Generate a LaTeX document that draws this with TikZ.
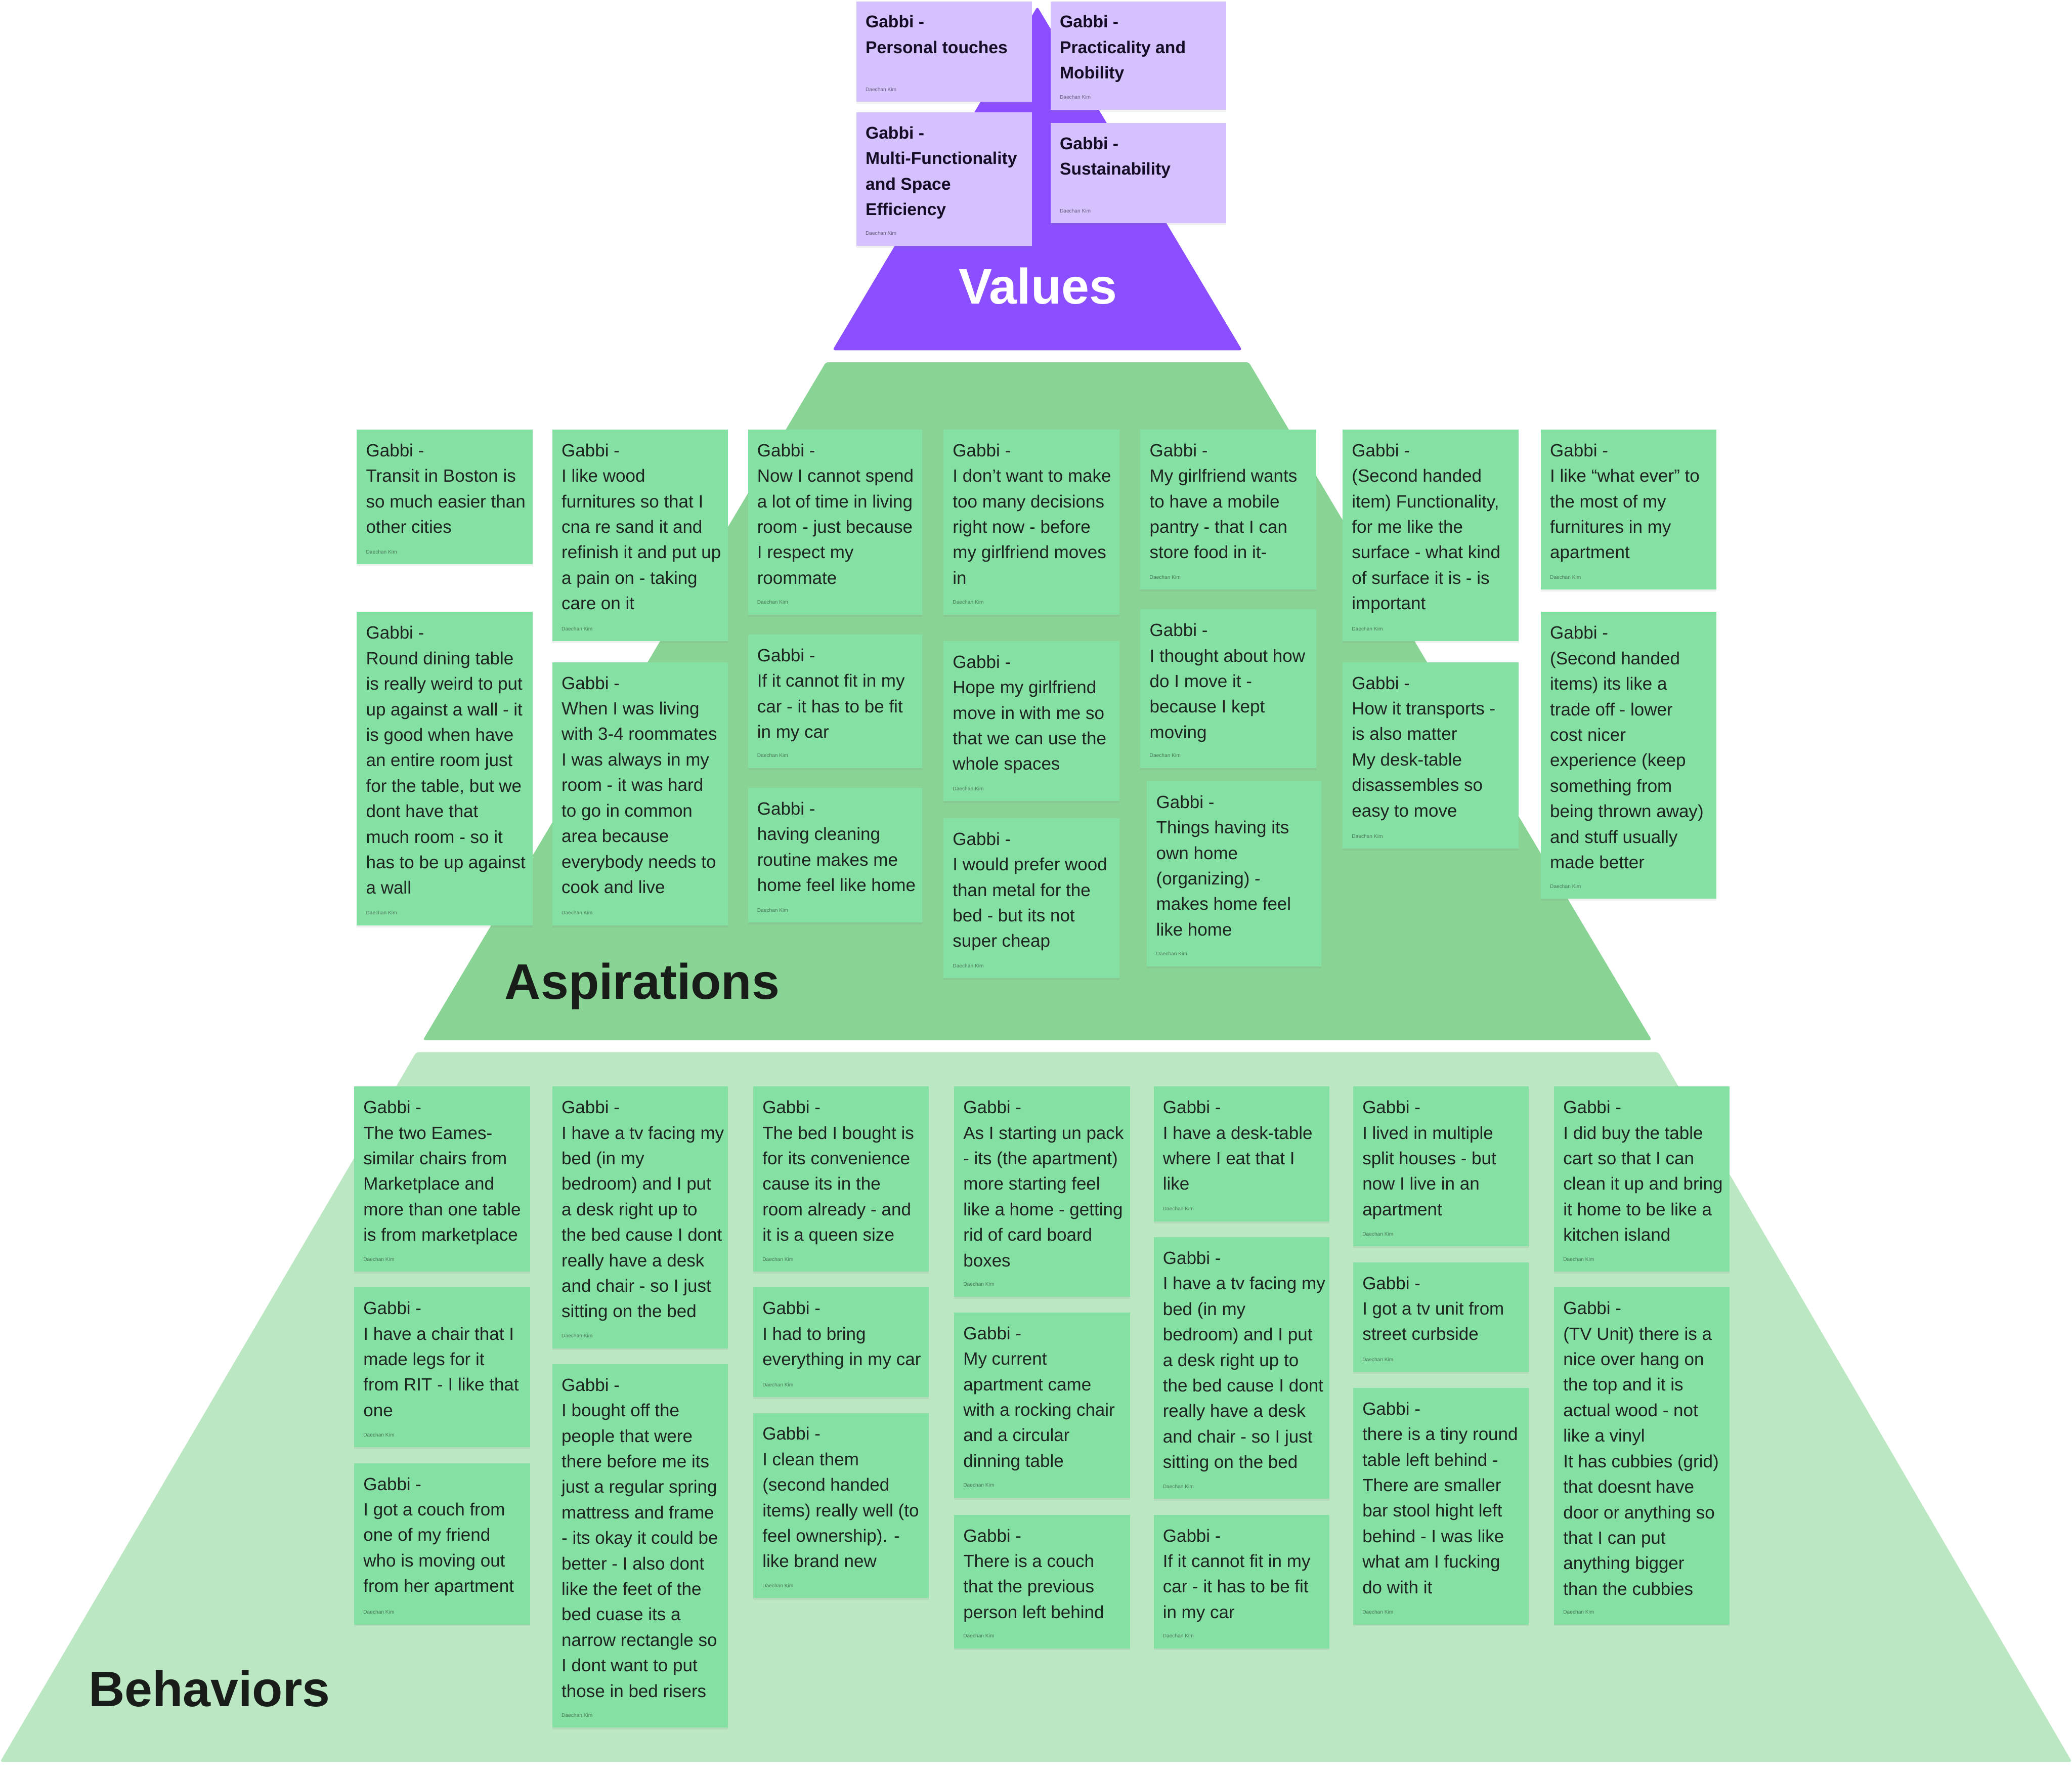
\documentclass[tikz,border=0pt]{standalone}
\usepackage{fontspec}
\setmainfont{Liberation Sans}
\usetikzlibrary{shadows}
\definecolor{valband}{RGB}{139,79,255}
\definecolor{valnote}{RGB}{212,193,253}
\definecolor{aspband}{RGB}{137,212,148}
\definecolor{behband}{RGB}{187,232,194}
\definecolor{gnotefill}{RGB}{133,224,163}
\definecolor{inkdark}{RGB}{30,36,32}
\tikzset{x=1pt,y=-1pt,
  every node/.style={inner sep=0pt,outer sep=0pt},
  gnote/.style={anchor=north west,fill=gnotefill,drop shadow={shadow xshift=0pt,shadow yshift=-1.5pt,opacity=.12}},
  gnote text/.style={align=left,text=inkdark,font=\fontsize{13.4}{19.3}\selectfont},
  gnote author/.style={text=inkdark!55!gnotefill,font=\fontsize{3.9}{4.5}\selectfont},
  vnote/.style={anchor=north west,fill=valnote,drop shadow={shadow xshift=0pt,shadow yshift=-1.5pt,opacity=.12}},
  vnote text/.style={align=left,text=black!85!valband,font=\fontsize{12.9}{19.3}\selectfont\bfseries},
  vnote author/.style={text=black!50!valnote,font=\fontsize{3.9}{4.5}\selectfont},
  band/.style={rounded corners=2pt},
  title/.style={font=\fontsize{37.8}{40}\selectfont\bfseries}}
% card: name, x, y, width, height, kind, text
\newcommand{\card}[7]{%
  \node[#6,minimum width=#4pt,minimum height=#5pt] (#1) at (#2,#3) {};
  \node[#6 text,anchor=north west] (#1t) at ([shift={(7pt,-10.7pt)}]#1.north west) {#7};
  \node[#6 author,anchor=base west] (#1a) at ([shift={(7pt,8pt)}]#1.south west) {Daechan Kim};}
\begin{document}
\begin{tikzpicture}
\useasboundingbox (0,0) rectangle (1568,1342);
% pyramid bands
\fill[band,behband] (315,796)--(1255,796)--(1568,1333)--(0,1333)--cycle;
\fill[band,aspband] (625,274)--(945,274)--(1250,787)--(320,787)--cycle;
\fill[band,valband] (785,5)--(940,265)--(630,265)--cycle;
\node[title,text=white,anchor=base] (values) at (785.5,230) {Values};
\node[title,text=inkdark!80!black,anchor=base west] (aspirations) at (382,756) {Aspirations};
\node[title,text=inkdark!80!black,anchor=base west] (behaviors) at (67,1291) {Behaviors};
% values
\card{val1}{648}{1}{133}{76}{vnote}{Gabbi -\\Personal touches}
\card{val2}{795}{1}{133}{82}{vnote}{Gabbi -\\Practicality and\\Mobility}
\card{val3}{648}{85}{133}{101}{vnote}{Gabbi -\\Multi-Functionality\\and Space\\Efficiency}
\card{val4}{795}{93}{133}{76}{vnote}{Gabbi -\\Sustainability}
% aspirations
\card{asp1}{270}{325}{133}{102}{gnote}{Gabbi -\\Transit in Boston is\\so much easier than\\other cities}
\card{asp2}{270}{463}{133}{237}{gnote}{Gabbi -\\Round dining table\\is really weird to put\\up against a wall - it\\is good when have\\an entire room just\\for the table, but we\\dont have that\\much room - so it\\has to be up against\\a wall}
\card{asp3}{418}{325}{133}{160}{gnote}{Gabbi -\\I like wood\\furnitures so that I\\cna re sand it and\\refinish it and put up\\a pain on - taking\\care on it}
\card{asp4}{418}{501}{133}{199}{gnote}{Gabbi -\\When I was living\\with 3-4 roommates\\I was always in my\\room - it was hard\\to go in common\\area because\\everybody needs to\\cook and live}
\card{asp5}{566}{325}{132}{140}{gnote}{Gabbi -\\Now I cannot spend\\a lot of time in living\\room - just because\\I respect my\\roommate}
\card{asp6}{566}{480}{132}{101}{gnote}{Gabbi -\\If it cannot fit in my\\car - it has to be fit\\in my car}
\card{asp7}{566}{596}{132}{102}{gnote}{Gabbi -\\having cleaning\\routine makes me\\home feel like home}
\card{asp8}{714}{325}{133}{140}{gnote}{Gabbi -\\I don’t want to make\\too many decisions\\right now - before\\my girlfriend moves\\in}
\card{asp9}{714}{485}{133}{121}{gnote}{Gabbi -\\Hope my girlfriend\\move in with me so\\that we can use the\\whole spaces}
\card{asp10}{714}{619}{133}{121}{gnote}{Gabbi -\\I would prefer wood\\than metal for the\\bed - but its not\\super cheap}
\card{asp11}{863}{325}{133}{121}{gnote}{Gabbi -\\My girlfriend wants\\to have a mobile\\pantry - that I can\\store food in it-}
\card{asp12}{863}{461}{133}{120}{gnote}{Gabbi -\\I thought about how\\do I move it -\\because I kept\\moving}
\card{asp13}{868}{591}{132}{140}{gnote}{Gabbi -\\Things having its\\own home\\(organizing) -\\makes home feel\\like home}
\card{asp14}{1016}{325}{133}{160}{gnote}{Gabbi -\\(Second handed\\item) Functionality,\\for me like the\\surface - what kind\\of surface it is - is\\important}
\card{asp15}{1016}{501}{133}{141}{gnote}{Gabbi -\\How it transports -\\is also matter\\My desk-table\\disassembles so\\easy to move}
\card{asp16}{1166}{325}{133}{121}{gnote}{Gabbi -\\I like “what ever” to\\the most of my\\furnitures in my\\apartment}
\card{asp17}{1166}{463}{133}{217}{gnote}{Gabbi -\\(Second handed\\items) its like a\\trade off - lower\\cost nicer\\experience (keep\\something from\\being thrown away)\\and stuff usually\\made better}
% behaviors
\card{beh1}{268}{822}{133}{140}{gnote}{Gabbi -\\The two Eames-\\similar chairs from\\Marketplace and\\more than one table\\is from marketplace}
\card{beh2}{268}{974}{133}{121}{gnote}{Gabbi -\\I have a chair that I\\made legs for it\\from RIT - I like that\\one}
\card{beh3}{268}{1107}{133}{122}{gnote}{Gabbi -\\I got a couch from\\one of my friend\\who is moving out\\from her apartment}
\card{beh4}{418}{822}{133}{198}{gnote}{Gabbi -\\I have a tv facing my\\bed (in my\\bedroom) and I put\\a desk right up to\\the bed cause I dont\\really have a desk\\and chair - so I just\\sitting on the bed}
\card{beh5}{418}{1032}{133}{275}{gnote}{Gabbi -\\I bought off the\\people that were\\there before me its\\just a regular spring\\mattress and frame\\- its okay it could be\\better - I also dont\\like the feet of the\\bed cuase its a\\narrow rectangle so\\I dont want to put\\those in bed risers}
\card{beh6}{570}{822}{133}{140}{gnote}{Gabbi -\\The bed I bought is\\for its convenience\\cause its in the\\room already - and\\it is a queen size}
\card{beh7}{570}{974}{133}{83}{gnote}{Gabbi -\\I had to bring\\everything in my car}
\card{beh8}{570}{1069}{133}{140}{gnote}{Gabbi -\\I clean them\\(second handed\\items) really well (to\\feel ownership). -\\like brand new}
\card{beh9}{722}{822}{133}{159}{gnote}{Gabbi -\\As I starting un pack\\- its (the apartment)\\more starting feel\\like a home - getting\\rid of card board\\boxes}
\card{beh10}{722}{993}{133}{140}{gnote}{Gabbi -\\My current\\apartment came\\with a rocking chair\\and a circular\\dinning table}
\card{beh11}{722}{1146}{133}{101}{gnote}{Gabbi -\\There is a couch\\that the previous\\person left behind}
\card{beh12}{873}{822}{133}{102}{gnote}{Gabbi -\\I have a desk-table\\where I eat that I\\like}
\card{beh13}{873}{936}{133}{198}{gnote}{Gabbi -\\I have a tv facing my\\bed (in my\\bedroom) and I put\\a desk right up to\\the bed cause I dont\\really have a desk\\and chair - so I just\\sitting on the bed}
\card{beh14}{873}{1146}{133}{101}{gnote}{Gabbi -\\If it cannot fit in my\\car - it has to be fit\\in my car}
\card{beh15}{1024}{822}{133}{121}{gnote}{Gabbi -\\I lived in multiple\\split houses - but\\now I live in an\\apartment}
\card{beh16}{1024}{955}{133}{83}{gnote}{Gabbi -\\I got a tv unit from\\street curbside}
\card{beh17}{1024}{1050}{133}{179}{gnote}{Gabbi -\\there is a tiny round\\table left behind -\\There are smaller\\bar stool hight left\\behind - I was like\\what am I fucking\\do with it}
\card{beh18}{1176}{822}{133}{140}{gnote}{Gabbi -\\I did buy the table\\cart so that I can\\clean it up and bring\\it home to be like a\\kitchen island}
\card{beh19}{1176}{974}{133}{255}{gnote}{Gabbi -\\(TV Unit) there is a\\nice over hang on\\the top and it is\\actual wood - not\\like a vinyl\\It has cubbies (grid)\\that doesnt have\\door or anything so\\that I can put\\anything bigger\\than the cubbies}
\end{tikzpicture}
\end{document}
